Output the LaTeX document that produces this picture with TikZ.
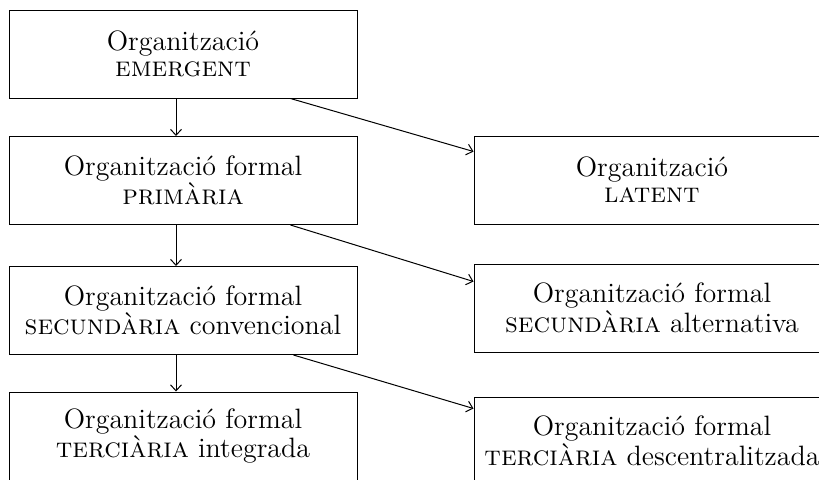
\documentclass[tikz,border=0pt]{standalone}
\usepackage{tikz}
\usetikzlibrary{arrows.meta, calc}

\begin{document}
\begin{tikzpicture}[x=0.5pt, y=-0.5pt,
    caixa/.style={draw, line width=0.5pt, minimum height=44pt, align=center, inner sep=0pt, font=\fontsize{14}{13}\selectfont},
    esq/.style={caixa, minimum width=174pt},
    dre/.style={caixa, minimum width=178pt},
    fletxa/.style={-{Straight Barb[length=3pt,width=5.5pt]}, line width=0.5pt}]
    \clip (0,0) rectangle (819,479);

    % Left column
    \node[esq] (emergent) at (183,54) {Organització\\\textsc{emergent}};
    \node[esq] (primaria) at (183,180.5) {Organització formal\\\textsc{primària}};
    \node[esq] (convencional) at (183,310.5) {Organització formal\\\textsc{secundària} convencional};
    \node[esq] (integrada) at (183,436) {Organització formal\\\textsc{terciària} integrada};

    % Right column
    \node[dre] (latent) at (652,180) {Organització\\\textsc{latent}};
    \node[dre] (alternativa) at (652,308) {Organització formal\\\textsc{secundària} alternativa};
    \node[dre] (descentralitzada) at (652,441) {Organització formal\\\textsc{terciària} descentralitzada};

    % Arrows down
    \draw[fletxa] ($(emergent.south)+(-7,0)$) -- ($(primaria.north)+(-7,0)$);
    \draw[fletxa] ($(primaria.south)+(-7,0)$) -- ($(convencional.north)+(-7,0)$);
    \draw[fletxa] ($(convencional.south)+(-7,0)$) -- ($(integrada.north)+(-7,0)$);

    % Arrows across
    \draw[fletxa] ($(emergent.south east)+(-67,0)$) -- ($(latent.north west)+(0,16)$);
    \draw[fletxa] ($(primaria.south east)+(-67,0)$) -- ($(alternativa.north west)+(0,18)$);
    \draw[fletxa] ($(convencional.south east)+(-64,0)$) -- ($(descentralitzada.north west)+(0,12)$);
\end{tikzpicture}
\end{document}
